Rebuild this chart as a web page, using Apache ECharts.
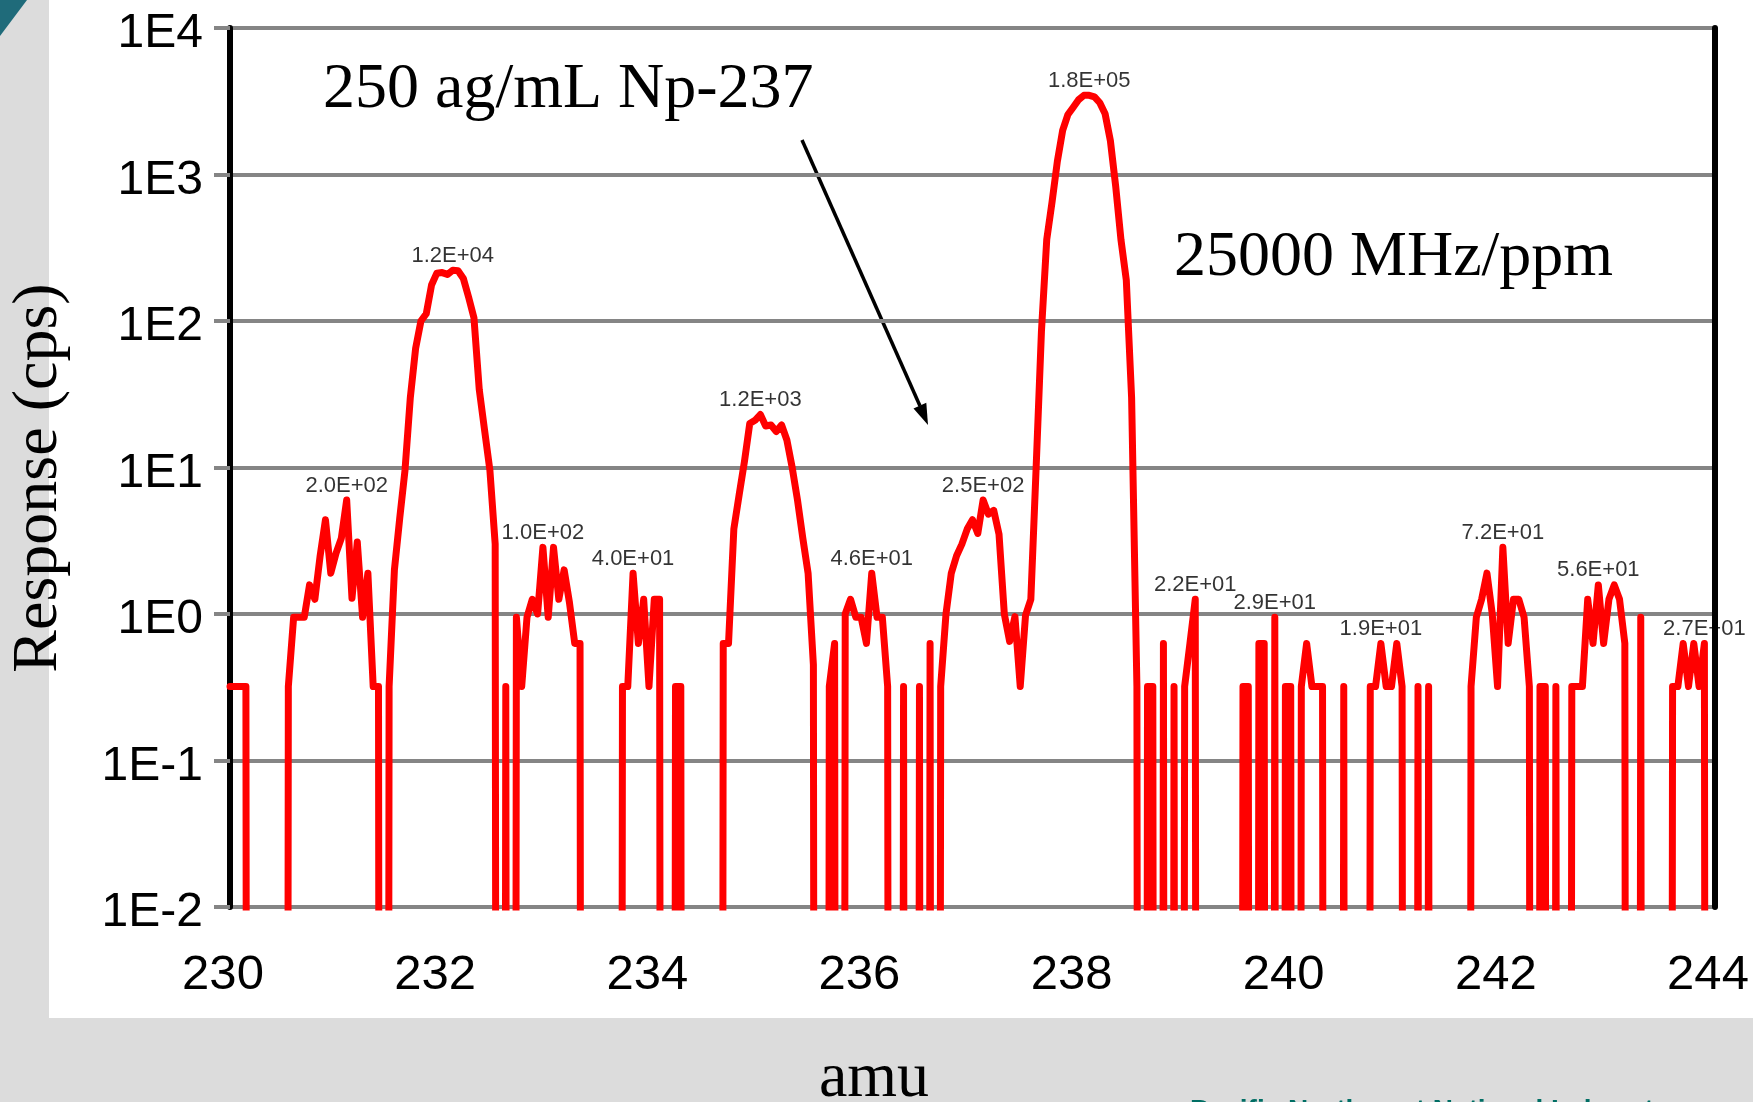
<!DOCTYPE html>
<html>
<head>
<meta charset="utf-8">
<script src="https://cdn.jsdelivr.net/npm/echarts@6/dist/echarts.min.js"></script>
<style>
  html, body { margin: 0; padding: 0; background: #dcdcdc; }
  #wrap { position: relative; width: 1753px; height: 1102px; background: #dcdcdc; overflow: hidden; }
  #panel { position: absolute; left: 49px; top: 0; width: 1704px; height: 1018px; background: #fff; }
  #chart { position: absolute; left: 0; top: 0; width: 1753px; height: 1102px; }
</style>
</head>
<body>
<div id="wrap"><div id="panel"></div><div id="chart"></div></div>
<script>
// scan start and step (amu)
var amuStart = 230;
var amuStep = 0.05;

// response (cps), one row per amu, 0 = no counts
var cps = [
  0.32, 0.32, 0.32, 0.32, 0, 0, 0, 0, 0, 0, 0, 0.32, 0.95, 0.95, 0.95, 1.58, 1.26, 2.5, 4.4, 1.9,
  2.6, 3.3, 6.0, 1.28, 3.1, 0.95, 1.9, 0.32, 0.32, 0, 0.32, 2.0, 4.5, 9.6, 30, 65, 100, 112, 176, 212,
  214, 208, 222, 220, 195, 145, 105, 34, 18, 9.6, 3.0, 0, 0.32, 0, 0.95, 0.32, 0.95, 1.26, 1.0, 2.85,
  0.95, 2.85, 1.26, 2.0, 1.2, 0.63, 0.63, 0, 0, 0, 0, 0, 0, 0, 0.32, 0.32, 1.9, 0.63, 1.26, 0.32,
  1.26, 1.26, 0, 0, 0.32, 0.32, 0, 0, 0, 0, 0, 0, 0, 0.63, 0.63, 3.8, 6.5, 11, 20, 21,
  23, 19.2, 19.5, 17.6, 19.5, 15.4, 10, 6, 3.3, 1.9, 0.45, 0, 0, 0.32, 0.63, 0, 1.0, 1.26, 0.95, 0.95,
  0.63, 1.9, 0.95, 0.95, 0.32, 0, 0, 0.32, 0, 0, 0.32, 0, 0.63, 0, 0.32, 1.0, 1.9, 2.5, 3.0, 3.8,
  4.4, 3.55, 6.0, 4.8, 5.1, 3.5, 1.0, 0.65, 0.96, 0.32, 0.98, 1.26, 10, 85, 360, 650, 1230, 2000, 2570, 2880,
  3240, 3470, 3470, 3390, 3090, 2600, 1700, 830, 357, 190, 30, 0.32, 0, 0.32, 0.32, 0, 0.63, 0, 0.32, 0,
  0.32, 0.63, 1.26, 0, 0, 0, 0, 0, 0, 0, 0, 0.32, 0.32, 0, 0.63, 0.63, 0, 0.95, 0, 0.32,
  0.32, 0, 0.32, 0.63, 0.32, 0.32, 0.32, 0, 0, 0, 0.32, 0, 0, 0, 0, 0.32, 0.32, 0.63, 0.32, 0.32,
  0.63, 0.32, 0, 0, 0.32, 0, 0.32, 0, 0, 0, 0, 0, 0, 0, 0.32, 0.95, 1.26, 1.9, 1.0, 0.32,
  2.85, 0.63, 1.26, 1.26, 0.95, 0.32, 0, 0.32, 0.32, 0, 0.32, 0, 0, 0.32, 0.32, 0.32, 1.26, 0.63, 1.58, 0.63,
  1.26, 1.58, 1.26, 0.63, 0, 0, 0.95, 0, 0, 0, 0, 0, 0.32, 0.32, 0.63, 0.32, 0.63, 0.32, 0.63, 0,
  0
];

// peak labels: index into cps, and the text shown above it
var peakIdx = [22, 42, 59, 76, 100, 121, 142, 162, 182, 197, 217, 240, 258, 278];
var peakText = ['2.0E+02', '1.2E+04', '1.0E+02', '4.0E+01', '1.2E+03', '4.6E+01', '2.5E+02',
                '1.8E+05', '2.2E+01', '2.9E+01', '1.9E+01', '7.2E+01', '5.6E+01', '2.7E+01'];

var ZERO = 1e-30; // zero counts drop straight off the log axis

var lineData = cps.map(function (v, i) {
  return [amuStart + i * amuStep, v > 0 ? v : ZERO];
});
var labelData = peakIdx.map(function (k, j) {
  return { value: [amuStart + k * amuStep, cps[k]], label: { formatter: peakText[j] } };
});

var sans = 'Liberation Sans';
var serif = '"Liberation Serif"';
var gridGray = '#858585';

var chart = echarts.init(document.getElementById('chart'), null, { renderer: 'canvas' });
chart.setOption({
  backgroundColor: 'transparent',
  animation: false,
  grid: { left: 230, right: 38, top: 28, bottom: 195 },
  xAxis: {
    type: 'value', min: 230, max: 244, interval: 2,
    axisLine: { show: false },
    axisTick: { show: false },
    splitLine: { show: false },
    axisLabel: { fontFamily: sans, fontSize: 49, color: '#000', margin: 44, padding: [0, 14, 0, 0] }
  },
  yAxis: [{
    type: 'log', logBase: 10, min: 0.01, max: 10000, splitNumber: 6,
    axisLine: { show: true, lineStyle: { color: '#000', width: 6 } },
    axisTick: { show: true, length: 16, lineStyle: { color: gridGray, width: 4 } },
    splitLine: { show: true, lineStyle: { color: gridGray, width: 4 } },
    axisLabel: {
      fontFamily: sans, fontSize: 48, color: '#000', margin: 27,
      verticalAlign: 'top', lineHeight: 12,
      formatter: function (v) { return '1E' + Math.round(Math.log10(v)); }
    }
  }, {
    type: 'log', logBase: 10, min: 0.01, max: 10000, position: 'right', z: 5,
    axisLine: { show: true, lineStyle: { color: '#000', width: 6 } },
    axisTick: { show: false },
    axisLabel: { show: false },
    splitLine: { show: false }
  }],
  series: [{
    type: 'line',
    data: lineData,
    showSymbol: false,
    symbol: 'none',
    silent: true,
    z: 3,
    lineStyle: { color: '#ff0000', width: 7, join: 'round', cap: 'round' }
  }, {
    type: 'scatter',
    data: labelData,
    symbolSize: 1,
    silent: true,
    z: 4,
    itemStyle: { color: 'rgba(0,0,0,0)' },
    label: { show: true, position: 'top', distance: 3, color: '#000', fontFamily: sans, fontSize: 22 }
  }],
  graphic: [
    { type: 'polygon', shape: { points: [[0, 0], [27, 0], [0, 36]] }, style: { fill: '#1f6b7a' }, silent: true },
    { type: 'text', x: 39, y: 478, rotation: Math.PI / 2, silent: true,
      style: { text: 'Response (cps)', font: '64px ' + serif, fill: '#000', align: 'center', verticalAlign: 'middle', textAlign: 'center', textVerticalAlign: 'middle' } },
    { type: 'text', x: 874, y: 1079, silent: true,
      style: { text: 'amu', font: '64px ' + serif, fill: '#000', align: 'center', verticalAlign: 'middle', textAlign: 'center', textVerticalAlign: 'middle' } },
    { type: 'text', x: 323, y: 90, silent: true,
      style: { text: '250 ag/mL Np-237', font: '64px ' + serif, fill: '#000', align: 'left', verticalAlign: 'middle', textAlign: 'left', textVerticalAlign: 'middle' } },
    { type: 'text', x: 1174, y: 258, silent: true,
      style: { text: '25000 MHz/ppm', font: '64px ' + serif, fill: '#000', align: 'left', verticalAlign: 'middle', textAlign: 'left', textVerticalAlign: 'middle' } },
    { type: 'line', silent: true, shape: { x1: 802, y1: 140, x2: 920, y2: 406 }, style: { stroke: '#000', lineWidth: 3.5 } },
    { type: 'polygon', silent: true, shape: { points: [[928, 425], [913.5, 408.5], [926.3, 402.8]] }, style: { fill: '#000' } },
    { type: 'text', x: 1190, y: 1097, silent: true,
      style: { text: 'Pacific Northwest National Laboratory', font: 'bold 28px ' + sans, fill: '#006e64', align: 'left', verticalAlign: 'top', textAlign: 'left', textVerticalAlign: 'top' } }
  ]
});
</script>
</body>
</html>
